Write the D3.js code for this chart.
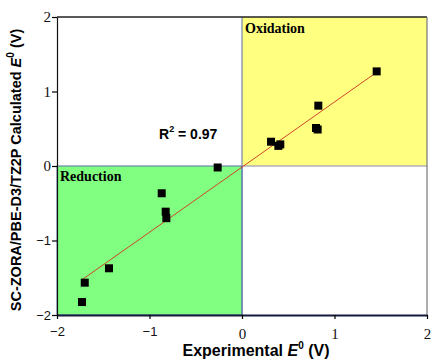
<!DOCTYPE html>
<html>
<head>
<meta charset="utf-8">
<script src="https://cdn.jsdelivr.net/npm/d3@7"></script>
<style>
  body { margin: 0; background: #fff; }
  svg { display: block; }
</style>
</head>
<body>
<div id="chart"></div>
<script>
// Experimental vs calculated E0 (V)
const expE = [1.456, 0.825, 0.80, 0.818, 0.314, 0.393, 0.414, -0.263, -0.868, -0.825, -0.818, -1.438, -1.70, -1.73];
const calcE = [1.27, 0.81, 0.51, 0.49, 0.326, 0.27, 0.29, -0.02, -0.366, -0.613, -0.70, -1.373, -1.566, -1.826];
const xTicks = [-2, -1, 0, 1, 2];
const yTicks = [-2, -1, 0, 1, 2];
const r2Label = "0.97";

const width = 431, height = 360;
const margin = { top: 17, right: 4, bottom: 45, left: 57 };

const svg = d3.select("#chart").append("svg")
  .attr("width", width)
  .attr("height", height);

const x = d3.scaleLinear().domain([-2, 2]).range([margin.left, width - margin.right]);
const y = d3.scaleLinear().domain([-2, 2]).range([height - margin.bottom, margin.top]);

// quadrant shading
svg.append("rect")
  .attr("x", x(-2)).attr("y", y(0))
  .attr("width", x(0) - x(-2)).attr("height", y(-2) - y(0))
  .attr("fill", "#80ff80")
  .attr("stroke", "#5b6fa8").attr("stroke-width", 1);

svg.append("rect")
  .attr("x", x(0)).attr("y", y(2))
  .attr("width", x(2) - x(0)).attr("height", y(0) - y(2))
  .attr("fill", "#ffff80");

// quadrant edges
svg.append("line")
  .attr("x1", x(0)).attr("x2", x(2)).attr("y1", y(0)).attr("y2", y(0))
  .attr("stroke", "#b0b0b8").attr("stroke-width", 1.5);
svg.append("line")
  .attr("x1", x(0)).attr("x2", x(0)).attr("y1", y(2)).attr("y2", y(-2))
  .attr("stroke", "#5b6fa8").attr("stroke-width", 1);

// frame
svg.append("line").attr("x1", x(-2)).attr("x2", x(2)).attr("y1", y(2)).attr("y2", y(2))
  .attr("stroke", "#222").attr("stroke-width", 1.5);
svg.append("line").attr("x1", x(2)).attr("x2", x(2)).attr("y1", y(2)).attr("y2", y(-2))
  .attr("stroke", "#777").attr("stroke-width", 1.2);

// axes
const xAxis = svg.append("g")
  .attr("transform", `translate(0,${y(-2)})`)
  .call(d3.axisBottom(x).tickValues(xTicks).tickSize(4).tickSizeOuter(0).tickFormat(d3.format("d")));
xAxis.select(".domain").attr("stroke", "#141a3c").attr("stroke-width", 2);
xAxis.selectAll(".tick line").attr("stroke", "#000").attr("stroke-width", 1.2);
xAxis.selectAll(".tick text")
  .attr("dy", "1.1em")
  .style("font-family", d => d < 0 ? "Liberation Sans, Arial, sans-serif" : "Liberation Serif, Times New Roman, serif")
  .style("font-size", d => d < 0 ? "13px" : "15px")
  .attr("fill", "#111");

const yAxis = svg.append("g")
  .attr("transform", `translate(${x(-2)},0)`)
  .call(d3.axisLeft(y).tickValues(yTicks).tickSize(5).tickSizeOuter(0).tickFormat(d3.format("d")));
yAxis.select(".domain").attr("stroke", "#111").attr("stroke-width", 1.2);
yAxis.selectAll(".tick line").attr("stroke", "#000").attr("stroke-width", 1.2);
yAxis.selectAll(".tick text")
  .attr("x", -6)
  .style("font-family", d => d < 0 ? "Liberation Sans, Arial, sans-serif" : "Liberation Serif, Times New Roman, serif")
  .style("font-size", d => d < 0 ? "13px" : "15px")
  .attr("fill", "#111");

// least squares fit line over the data range
const mx = d3.mean(expE), my = d3.mean(calcE);
let sxy = 0, sxx = 0;
expE.forEach((v, i) => { sxy += (v - mx) * (calcE[i] - my); sxx += (v - mx) * (v - mx); });
const slope = sxy / sxx;
const icpt = my - slope * mx;
const [xmin, xmax] = d3.extent(expE);
svg.append("line")
  .attr("x1", x(xmin)).attr("y1", y(icpt + slope * xmin))
  .attr("x2", x(xmax)).attr("y2", y(icpt + slope * xmax))
  .attr("stroke", "#d0452a").attr("stroke-width", 1);

// points
const sq = 8;
svg.selectAll(".pt")
  .data(expE.map((v, i) => [v, calcE[i]]))
  .join("rect")
  .attr("class", "pt")
  .attr("x", d => x(d[0]) - sq / 2)
  .attr("y", d => y(d[1]) - sq / 2)
  .attr("width", sq).attr("height", sq)
  .attr("fill", "#000");

// labels
svg.append("text")
  .attr("x", x(0) + 3).attr("y", y(2) + 16)
  .style("font-family", "Liberation Serif, Times New Roman, serif")
  .style("font-weight", "bold").style("font-size", "14px")
  .text("Oxidation");

svg.append("text")
  .attr("x", x(-2) + 3).attr("y", y(0) + 15)
  .style("font-family", "Liberation Serif, Times New Roman, serif")
  .style("font-weight", "bold").style("font-size", "14px")
  .text("Reduction");

const r2 = svg.append("text")
  .attr("x", 159).attr("y", 139)
  .style("font-family", "Liberation Sans, Arial, sans-serif")
  .style("font-weight", "bold").style("font-size", "14px");
r2.append("tspan").text("R");
r2.append("tspan").attr("dy", -7).style("font-size", "9px").text("2");
r2.append("tspan").attr("dy", 7).text(" = " + r2Label);

// axis titles
const xt = svg.append("text")
  .attr("x", 256).attr("y", 356)
  .attr("text-anchor", "middle")
  .style("font-family", "Liberation Sans, Arial, sans-serif")
  .style("font-weight", "bold").style("font-size", "16px");
xt.append("tspan").text("Experimental ");
xt.append("tspan").style("font-style", "italic").text("E");
xt.append("tspan").attr("dy", -7).style("font-size", "10px").text("0");
xt.append("tspan").attr("dy", 7).text(" (V)");

const yt = svg.append("text")
  .attr("transform", `translate(21,${(y(2) + y(-2)) / 2 + 4}) rotate(-90)`)
  .attr("text-anchor", "middle")
  .style("font-family", "Liberation Sans, Arial, sans-serif")
  .style("font-weight", "bold").style("font-size", "14.5px");
yt.append("tspan").text("SC-ZORA/PBE-D3/TZ2P Calculated ");
yt.append("tspan").style("font-style", "italic").text("E");
yt.append("tspan").attr("dy", -7).style("font-size", "10px").text("0");
yt.append("tspan").attr("dy", 7).text(" (V)");
</script>
</body>
</html>
